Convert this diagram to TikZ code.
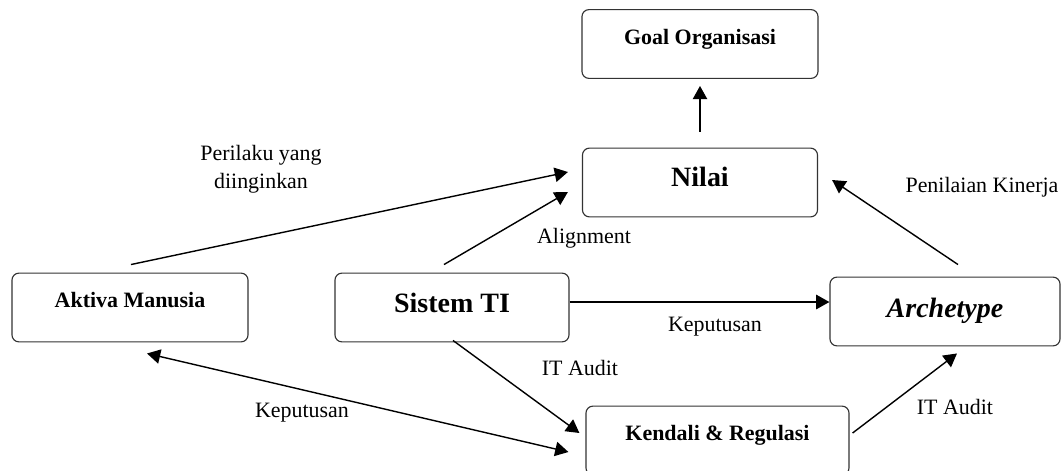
\documentclass[tikz,border=0pt]{standalone}
\usepackage{fontspec}
\setmainfont{Liberation Serif}
\usetikzlibrary{arrows.meta, positioning, calc}

\begin{document}
\begin{tikzpicture} [
    x=0.025cm, y=-0.025cm,
    >={Triangle[length=0.33cm, width=0.36cm]},
    block/.style={rectangle, draw=black!80, line width=0.8pt, rounded corners=5pt, minimum width=5.9cm, minimum height=1.72cm, inner sep=0pt, text height=10.3pt, font=\fontsize{15.6}{18}\selectfont\bfseries},
    bigblock/.style={block, text height=13.2pt, font=\fontsize{19.9}{23}\selectfont\bfseries},
    note/.style={inner sep=0pt, align=center, font=\fontsize{15.6}{19.9}\selectfont},
    arrow/.style={->, line width=1pt},
    dblarrow/.style={<->, line width=1pt}
]

\useasboundingbox (0,0) rectangle (1061,470);
\clip (0,0) rectangle (1061,470);

% LAYER 1: Boxes
\node[block, text depth=0.35cm] (goal) at (700,44) {Goal Organisasi};
\node[bigblock, minimum width=5.875cm, text depth=0.25cm] (nilai) at (700,182.5) {Nilai};
\node[block, text depth=0.375cm] (aktiva) at (130,307.5) {Aktiva Manusia};
\node[bigblock, minimum width=5.85cm, text depth=0.21cm] (sistem) at (452,307.5) {Sistem TI};
\node[bigblock, minimum width=5.75cm, text depth=0.175cm, font=\fontsize{19.9}{23}\selectfont\bfseries\itshape] (archetype) at (945,311.5) {Archetype};
\node[block, minimum width=6.575cm, text depth=0.375cm] (kendali) at (717.5,440.5) {Kendali \& Regulasi};

% LAYER 2: Connectors
\draw[arrow] ($(aktiva.north)+(1,-8)$) -- ($(nilai.west)+(-14,-10.5)$);
\draw[arrow] ($(sistem.north)+(-8,-8)$) -- ($(nilai.west)+(-14,9.5)$);
\draw[arrow] ($(nilai.north)+(0,-16)$) -- ($(goal.south)+(0,7)$);
\draw[arrow] ($(archetype.north)+(13,-12)$) -- ($(nilai.east)+(14,-2.5)$);
\draw[arrow] ($(sistem.east)+(0,-5.5)$) -- ($(archetype.west)+(0,-9.5)$);
\draw[arrow] ($(sistem.south)+(1,-2)$) -- ($(kendali.west)+(-6,-7.5)$);
\draw[dblarrow] ($(aktiva.south)+(17,11)$) -- ($(kendali.west)+(-17,11.5)$);
\draw[arrow] ($(kendali.east)+(3,-7.5)$) -- ($(archetype.south)+(12,7)$);

% LAYER 3: Connector labels
\node[note] (perilaku) at (261,169) {Perilaku yang\\diinginkan};
\node[note] (alignment) at (584,238) {Alignment};
\node[note] (audit_sistem) at (580,368) {IT Audit};
\node[note] (keputusan_aktiva) at (302,413) {Keputusan};
\node[note] (keputusan_arch) at (715,327) {Keputusan};
\node[note] (penilaian) at (982,187) {Penilaian Kinerja};
\node[note] (audit_kendali) at (955,407) {IT Audit};

\end{tikzpicture}
\end{document}
